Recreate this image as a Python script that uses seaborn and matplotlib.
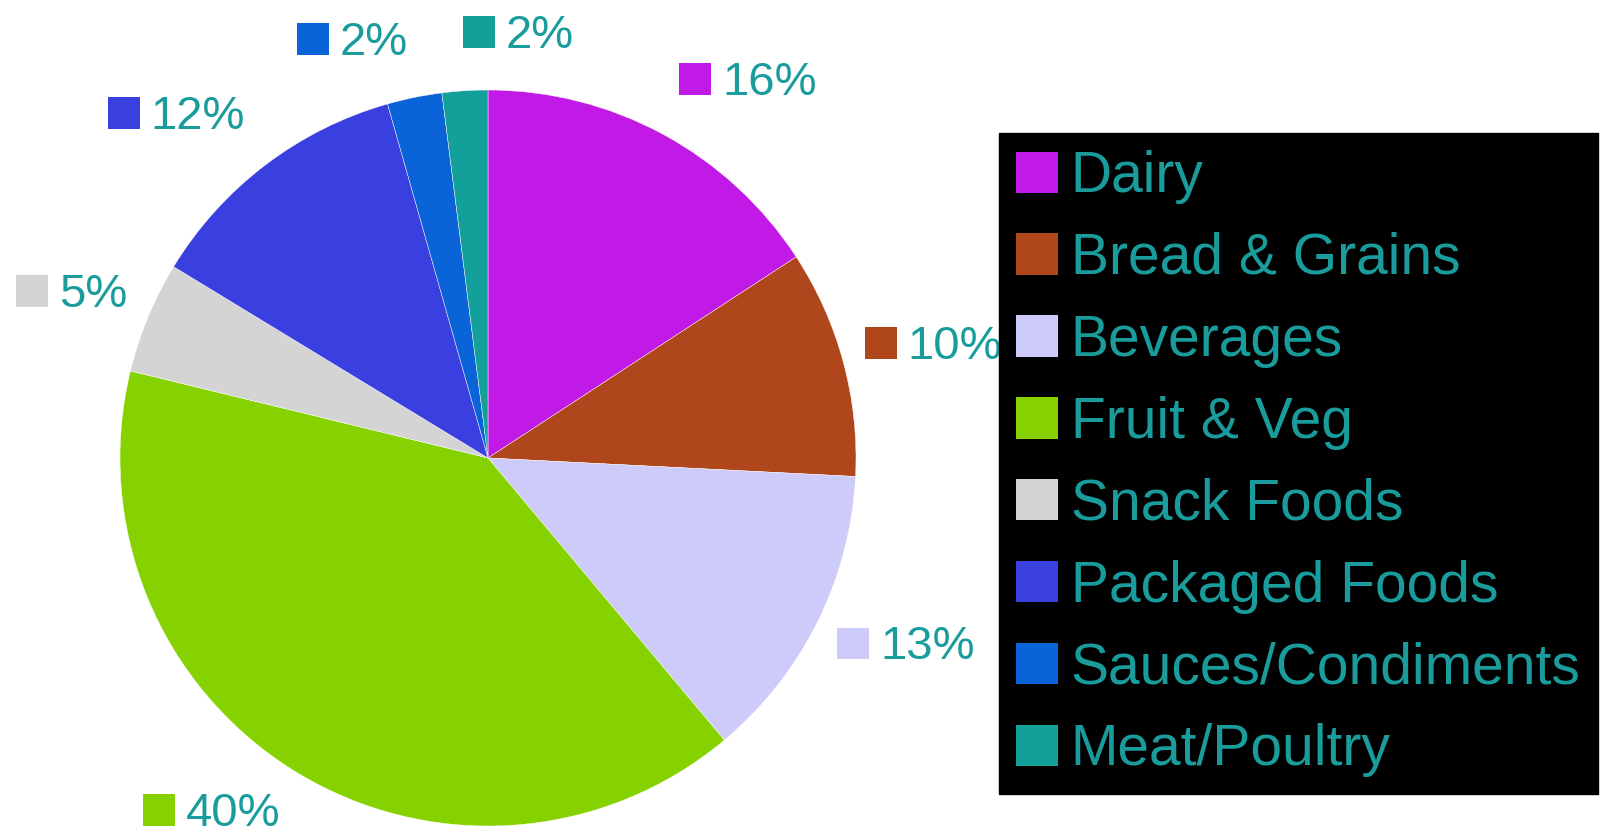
import numpy as np
import matplotlib.pyplot as plt
import seaborn as sns
from matplotlib.offsetbox import AnnotationBbox, DrawingArea, TextArea, HPacker
from matplotlib.patches import Rectangle

# food spending shares (percent)
categories = ['Dairy', 'Bread & Grains', 'Beverages', 'Fruit & Veg', 'Snack Foods',
              'Packaged Foods', 'Sauces/Condiments', 'Meat/Poultry']
shares = [15.8, 10.0, 13.1, 39.9, 4.9, 11.9, 2.4, 2.0]
colors = ['#c21ae6', '#b0461c', '#cccbfa', '#86d200', '#d4d4d4',
          '#3a3fe0', '#0b63d8', '#13a09a']
text_color = '#1a9c9c'

sns.set_theme(style='white')
plt.rcParams['font.family'] = ['Liberation Sans', 'DejaVu Sans']

W, H = 1606, 839
fig = plt.figure(figsize=(W / 100, H / 100), dpi=100)
fig.patch.set_facecolor('white')

# pie axes: centre and radius in pixels
cx, cy, r = 488, 458, 368
ax = fig.add_axes([(cx - r) / W, (H - cy - r) / H, 2 * r / W, 2 * r / H])
wedges, _ = ax.pie(shares, colors=colors, startangle=90, counterclock=False, radius=1,
                   wedgeprops=dict(edgecolor='white', linewidth=0.3))
ax.set_xlim(-1, 1)
ax.set_ylim(-1, 1)
ax.set_aspect('equal')
ax.axis('off')

# outside labels: coloured square + percentage
for w, c, v in zip(wedges, colors, shares):
    mid = np.deg2rad((w.theta1 + w.theta2) / 2)
    ux, uy = np.cos(mid), np.sin(mid)
    sq = DrawingArea(23, 23, 0, 0)
    sq.add_artist(Rectangle((0, 0), 23, 23, facecolor=c, edgecolor='none'))
    txt = TextArea(f'{v:.0f}%', textprops=dict(color=text_color, fontsize=34))
    box = HPacker(children=[sq, txt], align='baseline', pad=0, sep=8)
    bx = 0 if ux >= -0.1 else 1
    by = float(np.clip(0.5 - 0.8 * uy, 0, 1))
    if abs(uy) < 0.5:
        rr = 1.06
    else:
        rr = 1.09 if uy > 0 else 1.07
    ab = AnnotationBbox(box, (rr * ux, rr * uy), xycoords='data',
                        box_alignment=(bx, by), frameon=False, pad=0,
                        annotation_clip=False)
    ax.add_artist(ab)

leg = fig.legend(wedges, categories, loc='upper left',
                 bbox_to_anchor=(999 / W, 1 - 133 / H), bbox_transform=fig.transFigure,
                 borderaxespad=0, fontsize=41, labelcolor=text_color,
                 frameon=True, fancybox=False, facecolor='black', edgecolor='black',
                 framealpha=1, handlelength=0.74, handleheight=0.74,
                 handletextpad=0.22, borderpad=0.3, labelspacing=0.49)
for h in leg.legend_handles:
    h.set_edgecolor('none')

fig.savefig('out.png', dpi=100)
